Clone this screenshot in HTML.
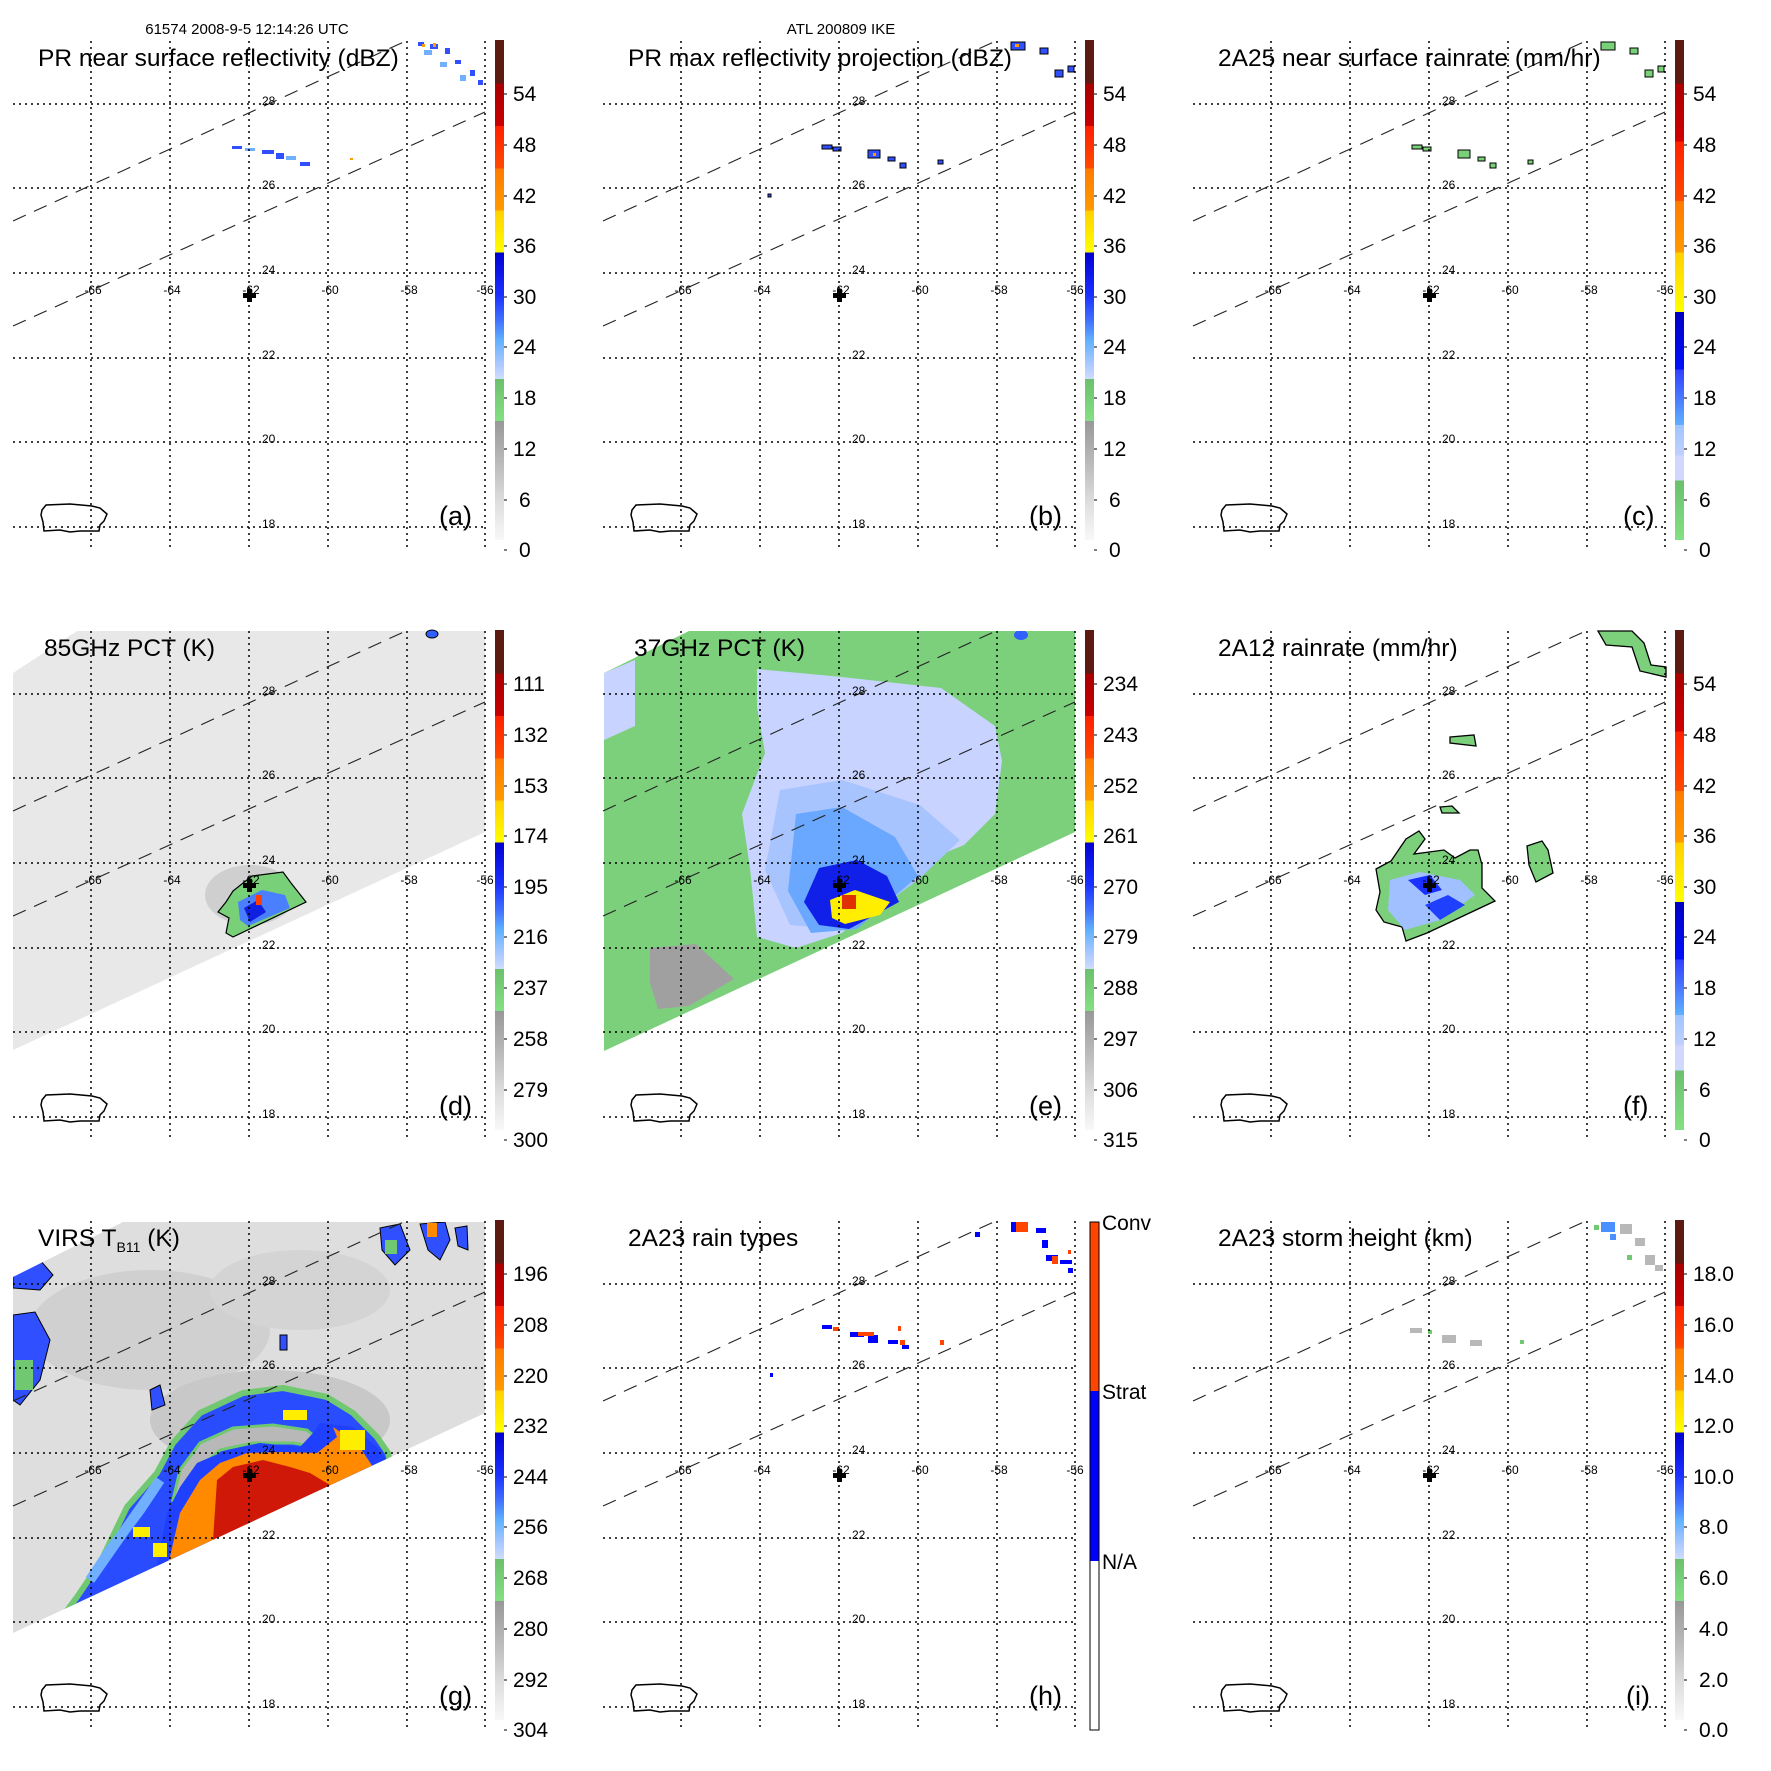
<!DOCTYPE html>
<html><head><meta charset="utf-8"><style>
html,body{margin:0;padding:0;background:#fff}
svg{display:block}
text{font-family:"Liberation Sans",sans-serif;fill:#000}
.t{font-size:24.5px}.l{font-size:27px}.c{font-size:21px}.s{font-size:12px}.h{font-size:15px}
</style></head><body>
<svg width="1771" height="1771" viewBox="0 0 1771 1771" xmlns="http://www.w3.org/2000/svg">
<defs>
<linearGradient id="gA" x1="0" y1="0" x2="0" y2="1">
<stop offset="0" stop-color="#5c1a12"/><stop offset=".087" stop-color="#5c1a12"/>
<stop offset=".087" stop-color="#a80000"/><stop offset=".172" stop-color="#c80000"/>
<stop offset=".172" stop-color="#ff2000"/><stop offset=".257" stop-color="#ff4a00"/>
<stop offset=".257" stop-color="#ff7a00"/><stop offset=".341" stop-color="#ff9a00"/>
<stop offset=".341" stop-color="#ffd000"/><stop offset=".425" stop-color="#ffff00"/>
<stop offset=".425" stop-color="#0000d0"/><stop offset=".51" stop-color="#1a30ff"/>
<stop offset=".56" stop-color="#4070ff"/><stop offset=".60" stop-color="#60b0ff"/>
<stop offset=".64" stop-color="#a0c4ff"/><stop offset=".678" stop-color="#d0dcff"/>
<stop offset=".678" stop-color="#6cc06c"/><stop offset=".762" stop-color="#84e084"/>
<stop offset=".762" stop-color="#989898"/><stop offset=".85" stop-color="#bcbcbc"/>
<stop offset=".93" stop-color="#e0e0e0"/><stop offset="1" stop-color="#f8f8f8"/>
</linearGradient>
<linearGradient id="gC" x1="0" y1="0" x2="0" y2="1">
<stop offset="0" stop-color="#5c1a12"/><stop offset=".087" stop-color="#5c1a12"/>
<stop offset=".087" stop-color="#a80000"/><stop offset=".203" stop-color="#d00000"/>
<stop offset=".203" stop-color="#ff2000"/><stop offset=".322" stop-color="#ff4a00"/>
<stop offset=".322" stop-color="#ff7a00"/><stop offset=".425" stop-color="#ff9a00"/>
<stop offset=".425" stop-color="#ffd000"/><stop offset=".544" stop-color="#ffff00"/>
<stop offset=".544" stop-color="#0000c0"/><stop offset=".659" stop-color="#0010ff"/>
<stop offset=".659" stop-color="#3040ff"/><stop offset=".77" stop-color="#60b0ff"/>
<stop offset=".77" stop-color="#a0c4ff"/><stop offset=".831" stop-color="#c0d0ff"/>
<stop offset=".831" stop-color="#d0d8ff"/><stop offset=".881" stop-color="#d0d8ff"/>
<stop offset=".881" stop-color="#6cc06c"/><stop offset="1" stop-color="#84e084"/>
</linearGradient>
<g id="grid" fill="none" stroke="#000" stroke-width="1.5" stroke-dasharray="2,4">
<path d="M91,41V550M170,41V550M249,41V550M328,41V550M407,41V550M485,41V550"/>
<path d="M13,104H485M13,188H485M13,273H485M13,358H485M13,442H485M13,527H485"/>
</g>
<g id="sw" stroke="#222" stroke-width="1.1" stroke-dasharray="14,9"><line x1="13" y1="221" x2="408" y2="40"/><line x1="13" y1="326" x2="485" y2="112"/></g>
<path id="pr" d="M42,510 L46,505 L70,504 L92,506 L100,508 L107,514 L104,521 L100,525 L99,531 L80,531 L70,532 L60,530 L44,531 L43,522 L41,515 Z" fill="none" stroke="#000" stroke-width="1.5"/>
<g id="plus" fill="#000"><rect x="243" y="293" width="13" height="5"/><rect x="247" y="289" width="5" height="13"/></g>
<g id="tk" stroke="#000" stroke-width="1"><path d="M504,94h3M504,145h3M504,196h3M504,246h3M504,297h3M504,347h3M504,398h3M504,449h3M504,500h3M504,550h3"/></g>
</defs>

<!-- ===== Panel a ===== -->
<g transform="translate(0,0)">
<g fill="#3050ff"><rect x="418" y="42" width="6" height="4"/><rect x="430" y="44" width="8" height="5"/><rect x="445" y="48" width="5" height="6"/><rect x="455" y="60" width="6" height="4"/><rect x="470" y="70" width="5" height="6"/><rect x="478" y="80" width="5" height="5"/><rect x="232" y="146" width="10" height="3"/><rect x="262" y="150" width="12" height="4"/><rect x="276" y="153" width="8" height="6"/><rect x="300" y="162" width="10" height="4"/></g>
<g fill="#70b0ff"><rect x="424" y="50" width="8" height="5"/><rect x="440" y="62" width="7" height="5"/><rect x="460" y="75" width="6" height="6"/><rect x="245" y="148" width="10" height="3"/><rect x="286" y="156" width="10" height="4"/></g>
<g fill="#ff9a00"><rect x="422" y="44" width="3" height="3"/><rect x="433" y="43" width="3" height="4"/><rect x="350" y="158" width="3" height="2"/></g>
<use href="#grid"/><use href="#sw"/><use href="#pr"/><use href="#plus"/>
<rect x="495" y="40" width="9" height="500" fill="url(#gA)"/><use href="#tk"/>
<text class="h" x="247" y="34" text-anchor="middle">61574 2008-9-5 12:14:26 UTC</text>
<text class="t" x="38" y="66">PR near surface reflectivity (dBZ)</text>
<text class="l" x="439" y="525">(a)</text>
<g class="c"><text x="513" y="101">54</text><text x="513" y="152">48</text><text x="513" y="203">42</text><text x="513" y="253">36</text><text x="513" y="304">30</text><text x="513" y="354">24</text><text x="513" y="405">18</text><text x="513" y="456">12</text><text x="519" y="507">6</text><text x="519" y="557">0</text></g>
<g class="s"><text x="262" y="105">28</text><text x="262" y="189">26</text><text x="262" y="274">24</text><text x="262" y="359">22</text><text x="262" y="443">20</text><text x="262" y="528">18</text>
<g text-anchor="middle"><text x="93" y="294">-66</text><text x="172" y="294">-64</text><text x="251" y="294">-62</text><text x="330" y="294">-60</text><text x="409" y="294">-58</text><text x="485" y="294">-56</text></g></g>
</g>

<!-- ===== Panel b ===== -->
<g transform="translate(590,0)">
<g fill="#3050ff" stroke="#000" stroke-width="1"><rect x="421" y="42" width="14" height="8"/><rect x="450" y="48" width="8" height="6"/><rect x="465" y="70" width="8" height="7"/><rect x="478" y="66" width="6" height="6"/><rect x="232" y="145" width="10" height="4"/><rect x="243" y="147" width="8" height="4"/><rect x="278" y="150" width="12" height="8"/><rect x="298" y="157" width="7" height="4"/><rect x="310" y="163" width="6" height="5"/><rect x="348" y="160" width="5" height="4"/><rect x="178" y="194" width="3" height="3"/></g>
<g fill="#ff9a00"><rect x="425" y="44" width="4" height="3"/><rect x="283" y="153" width="3" height="3"/></g>
<use href="#grid"/><use href="#sw"/><use href="#pr"/><use href="#plus"/>
<rect x="495" y="40" width="9" height="500" fill="url(#gA)"/><use href="#tk"/>
<text class="h" x="251" y="34" text-anchor="middle">ATL 200809 IKE</text>
<text class="t" x="38" y="66">PR max reflectivity projection (dBZ)</text>
<text class="l" x="439" y="525">(b)</text>
<g class="c"><text x="513" y="101">54</text><text x="513" y="152">48</text><text x="513" y="203">42</text><text x="513" y="253">36</text><text x="513" y="304">30</text><text x="513" y="354">24</text><text x="513" y="405">18</text><text x="513" y="456">12</text><text x="519" y="507">6</text><text x="519" y="557">0</text></g>
<g class="s"><text x="262" y="105">28</text><text x="262" y="189">26</text><text x="262" y="274">24</text><text x="262" y="359">22</text><text x="262" y="443">20</text><text x="262" y="528">18</text>
<g text-anchor="middle"><text x="93" y="294">-66</text><text x="172" y="294">-64</text><text x="251" y="294">-62</text><text x="330" y="294">-60</text><text x="409" y="294">-58</text><text x="485" y="294">-56</text></g></g>
</g>

<!-- ===== Panel c ===== -->
<g transform="translate(1180,0)">
<g fill="#78d078" stroke="#000" stroke-width="1"><rect x="421" y="42" width="14" height="8"/><rect x="450" y="48" width="8" height="6"/><rect x="465" y="70" width="8" height="7"/><rect x="478" y="66" width="6" height="6"/><rect x="232" y="145" width="10" height="4"/><rect x="243" y="147" width="8" height="4"/><rect x="278" y="150" width="12" height="8"/><rect x="298" y="157" width="7" height="4"/><rect x="310" y="163" width="6" height="5"/><rect x="348" y="160" width="5" height="4"/></g>
<use href="#grid"/><use href="#sw"/><use href="#pr"/><use href="#plus"/>
<rect x="495" y="40" width="9" height="500" fill="url(#gC)"/><use href="#tk"/>
<text class="t" x="38" y="66">2A25 near surface rainrate (mm/hr)</text>
<text class="l" x="443" y="525">(c)</text>
<g class="c"><text x="513" y="101">54</text><text x="513" y="152">48</text><text x="513" y="203">42</text><text x="513" y="253">36</text><text x="513" y="304">30</text><text x="513" y="354">24</text><text x="513" y="405">18</text><text x="513" y="456">12</text><text x="519" y="507">6</text><text x="519" y="557">0</text></g>
<g class="s"><text x="262" y="105">28</text><text x="262" y="189">26</text><text x="262" y="274">24</text><text x="262" y="359">22</text><text x="262" y="443">20</text><text x="262" y="528">18</text>
<g text-anchor="middle"><text x="93" y="294">-66</text><text x="172" y="294">-64</text><text x="251" y="294">-62</text><text x="330" y="294">-60</text><text x="409" y="294">-58</text><text x="485" y="294">-56</text></g></g>
</g>

<!-- ===== Panel d ===== -->
<g transform="translate(0,590)">
<polygon points="13,83 77,41 485,41 485,242 13,460" fill="#e8e8e8"/>
<ellipse cx="250" cy="305" rx="45" ry="30" fill="#c4c4c4" opacity=".7"/>
<polygon points="233,301 252,286 283,282 291,293 306,312 233,347 226,343 229,328 218,322 226,312" fill="#78d078" stroke="#000" stroke-width="1.2"/>
<polygon points="238,312 262,300 285,305 290,318 248,336 240,330" fill="#4a80ff"/>
<polygon points="244,318 258,310 266,322 250,332" fill="#1020e0"/>
<rect x="256" y="305" width="6" height="10" fill="#ff4000"/>
<ellipse cx="432" cy="44" rx="6" ry="4" fill="#3060ff" stroke="#000"/>
<use href="#grid"/><use href="#sw"/><use href="#pr"/><use href="#plus"/>
<rect x="495" y="40" width="9" height="500" fill="url(#gA)"/><use href="#tk"/>
<text class="t" x="44" y="66">85GHz PCT (K)</text>
<text class="l" x="439" y="525">(d)</text>
<g class="c"><text x="513" y="101">111</text><text x="513" y="152">132</text><text x="513" y="203">153</text><text x="513" y="253">174</text><text x="513" y="304">195</text><text x="513" y="354">216</text><text x="513" y="405">237</text><text x="513" y="456">258</text><text x="513" y="507">279</text><text x="513" y="557">300</text></g>
<g class="s"><text x="262" y="105">28</text><text x="262" y="189">26</text><text x="262" y="274">24</text><text x="262" y="359">22</text><text x="262" y="443">20</text><text x="262" y="528">18</text>
<g text-anchor="middle"><text x="93" y="294">-66</text><text x="172" y="294">-64</text><text x="251" y="294">-62</text><text x="330" y="294">-60</text><text x="409" y="294">-58</text><text x="485" y="294">-56</text></g></g>
</g>

<!-- ===== Panel e ===== -->
<g transform="translate(590,590)">
<clipPath id="ce"><polygon points="14,83 99,41 485,41 485,242 14,461"/></clipPath>
<g clip-path="url(#ce)">
<rect x="0" y="0" width="500" height="500" fill="#7cd07c"/>
<polygon points="14,83 45,70 45,136 14,150" fill="#c8d4ff"/>
<polygon points="167,79 252,87 351,98 405,136 412,171 405,224 374,255 328,274 252,343 206,358 167,347 160,278 152,224 175,163 167,117" fill="#c8d4ff"/>
<polygon points="190,200 252,190 330,215 370,250 328,290 260,340 200,335 175,280" fill="#a8c4ff"/>
<polygon points="206,224 252,217 305,247 328,286 267,339 221,343 198,301" fill="#6aa8ff"/>
<polygon points="229,278 267,270 297,286 309,312 259,339 229,335 214,312" fill="#1020e8"/>
<polygon points="240,310 265,300 300,312 290,325 255,334 242,328" fill="#ffee00"/>
<rect x="252" y="305" width="14" height="14" fill="#e03000"/>
<polygon points="60,358 106,354 144,389 99,416 68,419 60,393" fill="#a0a0a0"/>
<ellipse cx="431" cy="45" rx="7" ry="5" fill="#3060ff"/>
</g>
<use href="#grid"/><use href="#sw"/><use href="#pr"/><use href="#plus"/>
<rect x="495" y="40" width="9" height="500" fill="url(#gA)"/><use href="#tk"/>
<text class="t" x="44" y="66">37GHz PCT (K)</text>
<text class="l" x="439" y="525">(e)</text>
<g class="c"><text x="513" y="101">234</text><text x="513" y="152">243</text><text x="513" y="203">252</text><text x="513" y="253">261</text><text x="513" y="304">270</text><text x="513" y="354">279</text><text x="513" y="405">288</text><text x="513" y="456">297</text><text x="513" y="507">306</text><text x="513" y="557">315</text></g>
<g class="s"><text x="262" y="105">28</text><text x="262" y="189">26</text><text x="262" y="274">24</text><text x="262" y="359">22</text><text x="262" y="443">20</text><text x="262" y="528">18</text>
<g text-anchor="middle"><text x="93" y="294">-66</text><text x="172" y="294">-64</text><text x="251" y="294">-62</text><text x="330" y="294">-60</text><text x="409" y="294">-58</text><text x="485" y="294">-56</text></g></g>
</g>

<!-- ===== Panel f ===== -->
<g transform="translate(1180,590)">
<g stroke="#000" stroke-width="1.3">
<polygon points="196,279 211,271 226,249 239,241 245,249 234,264 264,260 275,268 290,260 298,260 302,275 302,298 315,311 247,343 226,351 222,337 204,332 196,320 200,302" fill="#7cd07c"/>
<polygon points="347,256 362,251 368,260 373,283 356,292 349,275" fill="#7cd07c"/>
<polygon points="418,41 452,41 464,53 471,75 486,77 486,87 460,81 452,57 426,55" fill="#7cd07c"/>
<polygon points="270,147 294,145 296,156 270,153" fill="#7cd07c"/>
<polygon points="260,217 272,216 279,223 262,223" fill="#7cd07c"/>
</g>
<polygon points="210,290 240,282 280,290 295,305 260,330 225,340 208,320" fill="#a0c0ff"/>
<polygon points="228,290 250,285 262,300 245,305" fill="#1a30ff"/>
<polygon points="245,315 268,305 285,315 260,330" fill="#2040ff"/>
<use href="#grid"/><use href="#sw"/><use href="#pr"/><use href="#plus"/>
<rect x="495" y="40" width="9" height="500" fill="url(#gC)"/><use href="#tk"/>
<text class="t" x="38" y="66">2A12 rainrate (mm/hr)</text>
<text class="l" x="443" y="525">(f)</text>
<g class="c"><text x="513" y="101">54</text><text x="513" y="152">48</text><text x="513" y="203">42</text><text x="513" y="253">36</text><text x="513" y="304">30</text><text x="513" y="354">24</text><text x="513" y="405">18</text><text x="513" y="456">12</text><text x="519" y="507">6</text><text x="519" y="557">0</text></g>
<g class="s"><text x="262" y="105">28</text><text x="262" y="189">26</text><text x="262" y="274">24</text><text x="262" y="359">22</text><text x="262" y="443">20</text><text x="262" y="528">18</text>
<g text-anchor="middle"><text x="93" y="294">-66</text><text x="172" y="294">-64</text><text x="251" y="294">-62</text><text x="330" y="294">-60</text><text x="409" y="294">-58</text><text x="485" y="294">-56</text></g></g>
</g>

<!-- ===== Panel g ===== -->
<g transform="translate(0,1180)">
<clipPath id="cg"><polygon points="13,97 123,42 485,42 485,233 13,453"/></clipPath>
<g clip-path="url(#cg)">
<rect x="0" y="0" width="500" height="500" fill="#dedede"/>
<ellipse cx="150" cy="150" rx="120" ry="60" fill="#d0d0d0"/>
<ellipse cx="300" cy="110" rx="90" ry="40" fill="#d4d4d4"/>
<ellipse cx="270" cy="240" rx="120" ry="50" fill="#c8c8c8"/>
<polygon points="60,440 77,417 100,383 127,327 157,293 173,263 200,233 243,213 283,208 327,217 353,233 377,257 388,273 392,290 300,340 150,420" fill="#2a4cff" stroke="#70c870" stroke-width="6" stroke-linejoin="round"/>
<polygon points="90,400 110,370 140,330 160,300" fill="none" stroke="#70b0ff" stroke-width="10"/>
<polygon points="173,320 180,290 200,263 233,248 273,245 307,250 327,267 317,267 293,263 253,263 220,270 197,290 183,317" fill="#b8b8b8" stroke="#70c870" stroke-width="3"/>
<polygon points="150,420 167,333 180,307 197,283 227,270 260,263 300,267 313,253 320,243 353,247 377,267 395,290" fill="#2040ff"/>
<polygon points="160,400 170,377 180,333 200,300 220,283 247,273 283,272 317,273 337,257 333,247 357,263 375,290" fill="#ff8a00"/>
<polygon points="200,380 213,360 217,300 233,287 263,280 290,287 310,293 330,305" fill="#d01808"/>
<g fill="#ffee00"><rect x="283" y="230" width="24" height="10"/><rect x="133" y="347" width="17" height="10"/><rect x="153" y="363" width="14" height="14"/><rect x="340" y="250" width="25" height="20"/></g>
<g fill="#3050ff" stroke="#000" stroke-width="1"><polygon points="380,48 400,44 410,70 395,85 382,70"/><polygon points="420,44 445,42 450,60 440,80 428,70"/><polygon points="455,48 467,46 468,70 458,66"/><polygon points="13,85 40,80 53,95 40,110 13,108"/><polygon points="13,135 35,132 50,160 40,200 20,225 13,220"/><polygon points="150,210 160,205 165,225 152,230"/><polygon points="280,155 287,155 287,170 280,170"/></g>
<g fill="#70c870"><rect x="15" y="180" width="18" height="30"/><rect x="385" y="60" width="12" height="14"/></g>
<rect x="427" y="43" width="10" height="14" fill="#ff8a00"/>
</g>
<use href="#grid"/><use href="#sw"/><use href="#pr"/><use href="#plus"/>
<rect x="495" y="40" width="9" height="500" fill="url(#gA)"/><use href="#tk"/>
<text class="t" x="38" y="66">VIRS T<tspan font-size="14" dy="6">B11</tspan><tspan dy="-6"> (K)</tspan></text>
<text class="l" x="439" y="525">(g)</text>
<g class="c"><text x="513" y="101">196</text><text x="513" y="152">208</text><text x="513" y="203">220</text><text x="513" y="253">232</text><text x="513" y="304">244</text><text x="513" y="354">256</text><text x="513" y="405">268</text><text x="513" y="456">280</text><text x="513" y="507">292</text><text x="513" y="557">304</text></g>
<g class="s"><text x="262" y="105">28</text><text x="262" y="189">26</text><text x="262" y="274">24</text><text x="262" y="359">22</text><text x="262" y="443">20</text><text x="262" y="528">18</text>
<g text-anchor="middle"><text x="93" y="294">-66</text><text x="172" y="294">-64</text><text x="251" y="294">-62</text><text x="330" y="294">-60</text><text x="409" y="294">-58</text><text x="485" y="294">-56</text></g></g>
</g>

<!-- ===== Panel h ===== -->
<g transform="translate(590,1180)">
<g fill="#0000ff"><rect x="421" y="42" width="14" height="10"/><rect x="446" y="48" width="10" height="5"/><rect x="452" y="60" width="6" height="8"/><rect x="456" y="75" width="12" height="6"/><rect x="470" y="80" width="12" height="4"/><rect x="478" y="88" width="5" height="5"/><rect x="385" y="52" width="5" height="5"/><rect x="232" y="145" width="10" height="4"/><rect x="260" y="152" width="14" height="5"/><rect x="278" y="155" width="10" height="8"/><rect x="298" y="160" width="10" height="4"/><rect x="312" y="165" width="7" height="4"/><rect x="180" y="193" width="3" height="4"/></g>
<g fill="#ff4500"><rect x="426" y="42" width="12" height="10"/><rect x="462" y="76" width="6" height="8"/><rect x="478" y="70" width="3" height="4"/><rect x="243" y="147" width="6" height="4"/><rect x="268" y="152" width="8" height="4"/><rect x="276" y="152" width="8" height="4"/><rect x="310" y="160" width="5" height="5"/><rect x="350" y="160" width="4" height="5"/><rect x="308" y="146" width="3" height="5"/></g>
<use href="#grid"/><use href="#sw"/><use href="#pr"/><use href="#plus"/>
<rect x="500" y="42" width="9" height="169" fill="#ff4500"/><rect x="500" y="211" width="9" height="170" fill="#0000ff"/><rect x="500" y="381" width="9" height="169" fill="#fff"/><rect x="500" y="42" width="9" height="508" fill="none" stroke="#000" stroke-width="1"/>
<text class="t" x="38" y="66">2A23 rain types</text>
<text class="l" x="439" y="525">(h)</text>
<g class="c"><text x="512" y="50">Conv</text><text x="512" y="219">Strat</text><text x="512" y="389">N/A</text></g>
<g class="s"><text x="262" y="105">28</text><text x="262" y="189">26</text><text x="262" y="274">24</text><text x="262" y="359">22</text><text x="262" y="443">20</text><text x="262" y="528">18</text>
<g text-anchor="middle"><text x="93" y="294">-66</text><text x="172" y="294">-64</text><text x="251" y="294">-62</text><text x="330" y="294">-60</text><text x="409" y="294">-58</text><text x="485" y="294">-56</text></g></g>
</g>

<!-- ===== Panel i ===== -->
<g transform="translate(1180,1180)">
<g fill="#b8b8b8"><rect x="440" y="44" width="12" height="10"/><rect x="455" y="58" width="10" height="8"/><rect x="465" y="75" width="10" height="10"/><rect x="475" y="85" width="8" height="6"/><rect x="230" y="148" width="12" height="5"/><rect x="262" y="155" width="14" height="8"/><rect x="290" y="160" width="12" height="6"/></g>
<g fill="#4a90ff"><rect x="421" y="42" width="14" height="10"/><rect x="430" y="54" width="6" height="6"/></g>
<g fill="#70c870"><rect x="414" y="45" width="5" height="5"/><rect x="447" y="75" width="5" height="5"/><rect x="248" y="150" width="4" height="4"/><rect x="340" y="160" width="4" height="4"/></g>
<use href="#grid"/><use href="#sw"/><use href="#pr"/><use href="#plus"/>
<rect x="495" y="40" width="9" height="500" fill="url(#gA)"/><use href="#tk"/>
<text class="t" x="38" y="66">2A23 storm height (km)</text>
<text class="l" x="446" y="525">(i)</text>
<g class="c"><text x="513" y="101">18.0</text><text x="513" y="152">16.0</text><text x="513" y="203">14.0</text><text x="513" y="253">12.0</text><text x="513" y="304">10.0</text><text x="519" y="354">8.0</text><text x="519" y="405">6.0</text><text x="519" y="456">4.0</text><text x="519" y="507">2.0</text><text x="519" y="557">0.0</text></g>
<g class="s"><text x="262" y="105">28</text><text x="262" y="189">26</text><text x="262" y="274">24</text><text x="262" y="359">22</text><text x="262" y="443">20</text><text x="262" y="528">18</text>
<g text-anchor="middle"><text x="93" y="294">-66</text><text x="172" y="294">-64</text><text x="251" y="294">-62</text><text x="330" y="294">-60</text><text x="409" y="294">-58</text><text x="485" y="294">-56</text></g></g>
</g>
</svg>
</body></html>
